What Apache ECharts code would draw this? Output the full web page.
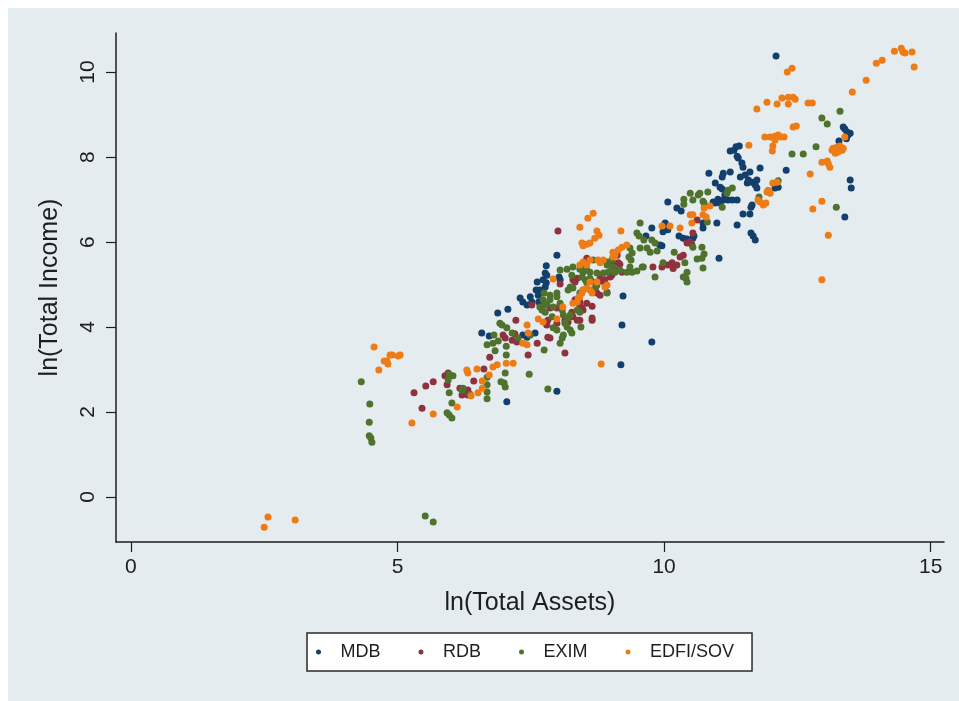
<!DOCTYPE html>
<html>
<head>
<meta charset="utf-8">
<script src="https://cdn.jsdelivr.net/npm/echarts@6.0.0/dist/echarts.min.js"></script>
<style>
  html, body { margin: 0; padding: 0; background: #ffffff; }
  #main { position: absolute; left: 8px; top: 8px; width: 951px; height: 693px; background: #e4ecef; }
</style>
</head>
<body>
<div id="main"></div>
<script>
const seriesNames = ['MDB', 'RDB', 'EXIM', 'EDFI/SOV'];
const xTicks = [0, 5, 10, 15];
const yTicks = [0, 2, 4, 6, 8, 10];

// [ln(Total Assets), ln(Total Income)]
const mdbPoints = [
  [12.10,10.38],[13.36,8.71],[13.39,8.66],[13.43,8.59],[13.49,8.56],[13.45,8.52],[13.28,8.38],[13.42,8.43],[13.49,7.46],[13.51,7.27],[13.39,6.59],
  [12.29,7.69],[12.14,7.29],[12.08,7.27],[11.80,7.74],[11.41,8.26],[11.24,8.14],[11.31,8.16],[11.37,8.02],[11.39,7.98],[11.46,7.86],[11.48,7.76],[11.35,8.24],
  [10.84,7.62],[11.11,7.62],[11.24,7.65],[11.09,7.53],[11.43,7.53],[11.52,7.58],[11.61,7.65],[11.58,7.46],[11.65,7.41],[11.74,7.46],[11.56,7.39],[11.71,7.34],[11.74,7.27],
  [10.96,7.39],[11.05,7.29],[11.09,7.25],[11.14,7.11],[11.20,6.99],[11.11,6.99],[11.28,6.99],[11.37,6.99],[11.65,6.87],[11.63,6.82],[11.48,6.66],[11.61,6.66],[11.37,6.40],
  [11.63,6.21],[11.67,6.14],[11.71,6.05],[10.99,6.45],[11.03,5.62],[10.92,6.94],[11.01,7.01],[10.96,6.92],[11.14,7.01],[11.05,6.92],[10.73,6.45],[10.73,6.33],
  [10.07,6.94],[10.24,6.80],[10.32,6.73],[10.02,6.45],[9.98,6.24],[10.07,6.29],[10.28,6.14],[10.36,6.09],[10.43,6.07],[10.54,6.09],[10.56,6.14],[9.96,5.91],[9.92,5.93],
  [9.77,6.33],[9.66,6.14],[9.23,4.73],[9.21,4.05],[9.77,3.65],[9.19,3.11],[7.99,2.49],[7.05,2.24],
  [7.99,5.69],[7.79,5.44],[7.77,5.27],[7.80,5.22],[8.03,5.18],[8.05,5.11],[7.62,5.06],[7.79,5.04],[7.60,4.87],[7.67,4.87],[7.71,4.82],[7.64,4.75],[7.77,4.94],
  [7.30,4.68],[7.35,4.59],[7.49,4.71],[7.52,4.59],[7.43,4.52],[7.65,4.59],[7.07,4.42],[6.88,4.33],[6.58,3.86],[6.72,3.79],[7.35,3.81],[7.58,3.86],[7.45,3.81],[7.43,3.76],[7.73,5.11]
];

const rdbPoints = [
  [5.31,2.45],[5.53,2.61],[5.67,2.71],[5.46,2.09],[5.89,2.85],[5.93,2.64],[5.95,2.92],[6.17,2.56],[6.23,2.49],[6.32,2.52],[6.21,2.40],[6.32,2.40],[6.43,2.73],[6.62,3.01],[6.73,3.29],
  [7.45,3.34],[8.14,3.39],[6.98,3.81],[7.20,3.84],[7.15,3.69],[7.24,3.65],[7.62,3.62],[7.86,3.74],[7.22,4.16],[7.02,3.74],[7.82,3.76],[7.80,4.05],[8.14,4.16],[8.20,4.12],
  [8.42,4.16],[8.65,4.16],[8.29,4.24],[8.37,4.16],[7.99,4.09],[7.82,4.16],[7.52,4.52],[7.86,4.45],[7.99,4.45],[8.27,4.35],[8.37,4.59],[8.42,4.59],[8.46,4.45],[8.55,4.56],[8.65,4.49],
  [8.33,4.64],[8.42,4.52],[8.48,4.40],[8.65,4.21],[8.74,4.80],[8.80,4.75],[8.93,4.82],[8.84,5.08],[8.29,5.11],[8.37,5.15],[8.80,5.15],[8.05,5.01],[8.33,5.06],[8.01,6.26],[8.55,5.62],
  [9.04,5.46],[9.14,5.51],[9.12,5.69],[9.17,5.48],[9.12,5.34],[9.21,5.29],[8.99,5.18],[9.02,5.22],[8.89,5.11],[9.79,5.41],[9.96,5.41],[10.07,5.46],[10.15,5.51],[10.24,5.46],
  [10.36,5.69],[10.30,5.65],[10.43,5.98],[10.49,6.00],[10.62,6.52],[10.54,6.21],[10.52,5.95],[10.17,5.38]
];

const eximPoints = [
  [4.32,2.71],[4.48,2.19],[4.47,1.76],[4.47,1.44],[4.50,1.39],[4.52,1.29],[5.52,-0.45],[5.67,-0.59],
  [5.97,2.89],[6.04,2.85],[5.95,2.75],[5.97,2.45],[6.02,2.21],[5.93,1.98],[5.97,1.93],[6.02,1.86],[6.21,2.52],[6.23,2.56],[6.36,2.42],
  [6.68,2.82],[6.68,2.64],[6.68,2.47],[6.68,2.31],[7.02,2.92],[6.94,2.71],[7.00,2.68],[7.02,2.59],[7.04,3.34],[6.83,3.44],[7.47,2.89],[7.82,2.54],
  [6.81,3.81],[6.96,4.05],[7.05,3.98],[6.89,3.67],[7.04,3.55],[7.26,3.74],[7.49,3.81],[7.75,3.46],[8.44,4.00],[8.18,4.00],[8.24,3.93],[8.27,3.86],[8.11,3.81],[8.09,3.74],[8.05,3.62],[7.99,3.93],[7.92,3.98],
  [6.92,4.09],[7.15,3.86],[6.79,3.62],[6.68,3.58],
  [8.18,5.36],[8.29,5.41],[8.24,4.94],[7.75,4.80],[7.86,4.75],[7.99,4.80],[7.73,4.64],[7.80,4.56],[7.67,4.47],[7.71,4.40],[7.86,4.64],[7.99,4.71],[8.05,4.56],[7.92,4.47],[7.77,4.52],
  [7.77,4.35],[7.90,4.24],[8.09,4.40],[8.11,4.28],[8.20,4.21],[8.24,4.28],[8.37,4.40],[8.42,4.35],[8.14,4.09],
  [8.05,5.34],[8.27,5.22],[8.29,4.92],[8.20,4.87],[8.48,5.41],[8.67,5.58],[8.80,5.53],[8.93,5.53],[9.02,5.58],[9.04,5.41],[9.17,5.34],[9.30,5.29],[9.40,5.29],[9.49,5.32],[9.59,5.41],[9.36,5.41],
  [8.93,5.46],[9.02,5.39],[8.95,5.29],[8.86,5.27],[9.08,5.29],[8.42,5.36],[8.48,5.29],[8.55,5.34],[8.61,5.29],[8.74,5.27],[8.46,5.18],[8.52,5.11],[8.61,5.15],[8.55,5.04],[8.67,5.06],[8.74,4.99],[8.72,4.94],[8.48,4.87],[8.42,4.80],[8.65,4.87],[8.93,4.80],
  [9.36,5.86],[9.40,5.74],[9.34,5.65],[9.38,5.58],[9.55,6.45],[9.49,6.21],[9.53,6.14],[9.62,6.05],[9.77,6.05],[9.83,5.98],[9.87,5.79],[9.68,5.86],[9.74,5.76],[9.55,5.86],
  [10.19,5.76],[10.37,7.01],[10.37,6.89],[10.49,7.15],[10.64,7.11],[10.82,7.18],[10.67,7.15],[10.54,6.99],[10.73,6.96],[10.75,6.92],
  [10.39,5.51],[10.43,5.29],[10.41,5.15],[10.43,5.06],[10.36,5.18],[9.83,5.18],[9.61,5.41],[10.71,5.88],[10.75,5.72],[10.71,5.62],[10.54,5.88],[10.62,5.60],[9.98,5.51],[10.73,5.39],
  [11.20,7.22],[11.28,7.27],[11.18,7.15],[11.09,6.82],[10.81,6.47],[11.78,7.06],[12.14,7.44],[12.40,8.07],[12.61,8.07],[12.85,8.24],[13.30,9.08],[12.96,8.92],[13.06,8.78],[13.23,6.82]
];

const edfiPoints = [
  [4.56,3.53],[4.86,3.34],[4.80,3.20],[4.82,3.13],[5.01,3.32],[4.75,3.20],[4.90,3.34],[5.05,3.34],[4.65,2.99],[2.57,-0.47],[2.50,-0.71],[3.08,-0.54],
  [5.27,1.74],[5.67,1.95],[6.12,2.12],[6.38,2.38],[6.30,2.99],[6.49,3.01],[6.51,2.45],[6.32,2.92],[6.59,2.73],[6.59,2.56],[6.72,2.87],[6.79,3.06],[6.87,3.11],[7.04,3.15],[7.17,3.15],
  [7.43,4.05],[7.45,3.86],[7.35,3.62],[7.43,3.58],[7.92,5.13],[8.10,4.47],[8.29,4.56],[8.37,4.59],[7.64,4.19],[7.99,4.19],[7.73,4.12],[8.82,3.13],
  [8.67,6.68],[8.57,6.56],[8.42,6.35],[8.74,6.26],[8.78,6.16],[8.70,6.09],[9.19,6.26],[8.46,5.98],[8.55,5.95],[8.61,5.98],[8.48,5.91],[9.04,5.76],[9.14,5.81],[9.21,5.88],[9.08,5.69],[9.30,5.93],[9.04,5.65],
  [8.76,5.58],[8.86,5.58],[8.80,5.51],[8.48,5.53],[8.61,5.58],[8.55,5.46],[8.42,5.46],[8.55,4.92],[8.61,4.87],[8.48,4.87],[8.65,4.80],[8.46,4.80],[8.89,4.94],[8.93,4.99],[8.61,5.06],[8.74,5.06],[8.42,4.71],[8.39,4.68],
  [9.96,6.38],[10.11,6.38],[10.30,6.33],[10.49,6.64],[10.54,6.64],[10.73,6.64],[10.79,6.59],[10.75,6.80],[10.86,6.85],[10.52,6.45],
  [11.59,8.28],[11.74,9.13],[11.93,9.29],[12.12,9.25],[12.21,9.39],[12.33,9.41],[12.42,9.41],[12.46,9.36],[12.33,9.25],[12.70,9.27],[12.78,9.27],[12.31,10.00],[12.40,10.09],
  [13.53,9.53],[13.79,9.81],[13.98,10.21],[14.09,10.28],[14.32,10.49],[14.45,10.56],[14.48,10.47],[14.52,10.45],[14.65,10.47],[14.69,10.12],
  [11.89,8.47],[11.99,8.47],[12.08,8.49],[12.14,8.52],[12.19,8.47],[12.25,8.47],[12.08,8.40],[12.04,8.26],[12.03,8.14],[12.42,8.71],[12.48,8.73],
  [13.39,8.47],[13.17,8.21],[13.25,8.24],[13.30,8.26],[13.34,8.16],[13.21,8.09],[13.26,8.12],[13.15,8.16],[13.36,8.21],[12.96,7.88],[13.06,7.91],[13.11,7.76],[13.08,7.84],
  [12.74,7.60],[12.79,6.78],[12.96,6.96],[13.08,6.16],[12.96,5.11],[12.12,7.41],[12.04,7.39],[11.95,7.22],[11.99,7.15],[11.93,7.18],[11.76,6.99],[11.80,6.94],[11.86,6.87],[11.91,6.92]
];

const seriesData = [mdbPoints, rdbPoints, eximPoints, edfiPoints];
const colors = ['#123f6b', '#8f323d', '#4f722d', '#ee7b14'];

const font = "'Liberation Sans', Arial, Helvetica, sans-serif";
const ink = '#1e1e1e';

const chart = echarts.init(document.getElementById('main'));

const option = {
  backgroundColor: 'transparent',
  animation: false,
  textStyle: { fontFamily: font },
  grid: {
    left: 108, top: 25, width: 828, height: 509,
    containLabel: false, outerBoundsMode: 'none'
  },
  legend: {
    data: seriesNames,
    orient: 'horizontal',
    left: 299, top: 625,
    icon: 'circle',
    itemWidth: 10, itemHeight: 5,
    itemGap: 38,
    padding: [10, 18, 10, 9],
    backgroundColor: '#ffffff',
    borderColor: '#2a2a2a',
    borderWidth: 1.5,
    borderRadius: 0,
    formatter: name => '{t|' + name + '}',
    textStyle: {
      fontFamily: font, fontSize: 18, color: ink,
      rich: { t: { fontFamily: font, fontSize: 18, color: ink, padding: [0, 0, 0, 12] } }
    }
  },
  xAxis: {
    type: 'value',
    min: -0.28, max: 15.25,
    name: 'ln(Total Assets)',
    nameLocation: 'middle',
    nameGap: 49,
    nameTextStyle: { fontFamily: font, fontSize: 25, color: ink },
    axisLine: { show: true, onZero: false, lineStyle: { color: ink, width: 1.5 } },
    axisTick: { show: true, length: 10, inside: false, customValues: xTicks, lineStyle: { color: ink, width: 1.2 } },
    axisLabel: { customValues: xTicks, margin: 15, fontFamily: font, fontSize: 21, color: ink },
    splitLine: { show: false }
  },
  yAxis: {
    type: 'value',
    min: -1.06, max: 10.92,
    name: 'ln(Total Income)',
    nameLocation: 'middle',
    nameRotate: 90,
    nameGap: 53,
    nameTextStyle: { fontFamily: font, fontSize: 25, color: ink },
    axisLine: { show: true, onZero: false, lineStyle: { color: ink, width: 1.5 } },
    axisTick: { show: true, length: 10, inside: false, customValues: yTicks, lineStyle: { color: ink, width: 1.2 } },
    axisLabel: { customValues: yTicks, rotate: 90, margin: 17, fontFamily: font, fontSize: 21, color: ink },
    splitLine: { show: false }
  },
  series: seriesNames.map((name, i) => ({
    name: name,
    type: 'scatter',
    data: seriesData[i],
    symbol: 'circle',
    symbolSize: 7,
    itemStyle: { color: colors[i], opacity: 1 },
    emphasis: { disabled: true }
  }))
};

chart.setOption(option);
</script>
</body>
</html>
